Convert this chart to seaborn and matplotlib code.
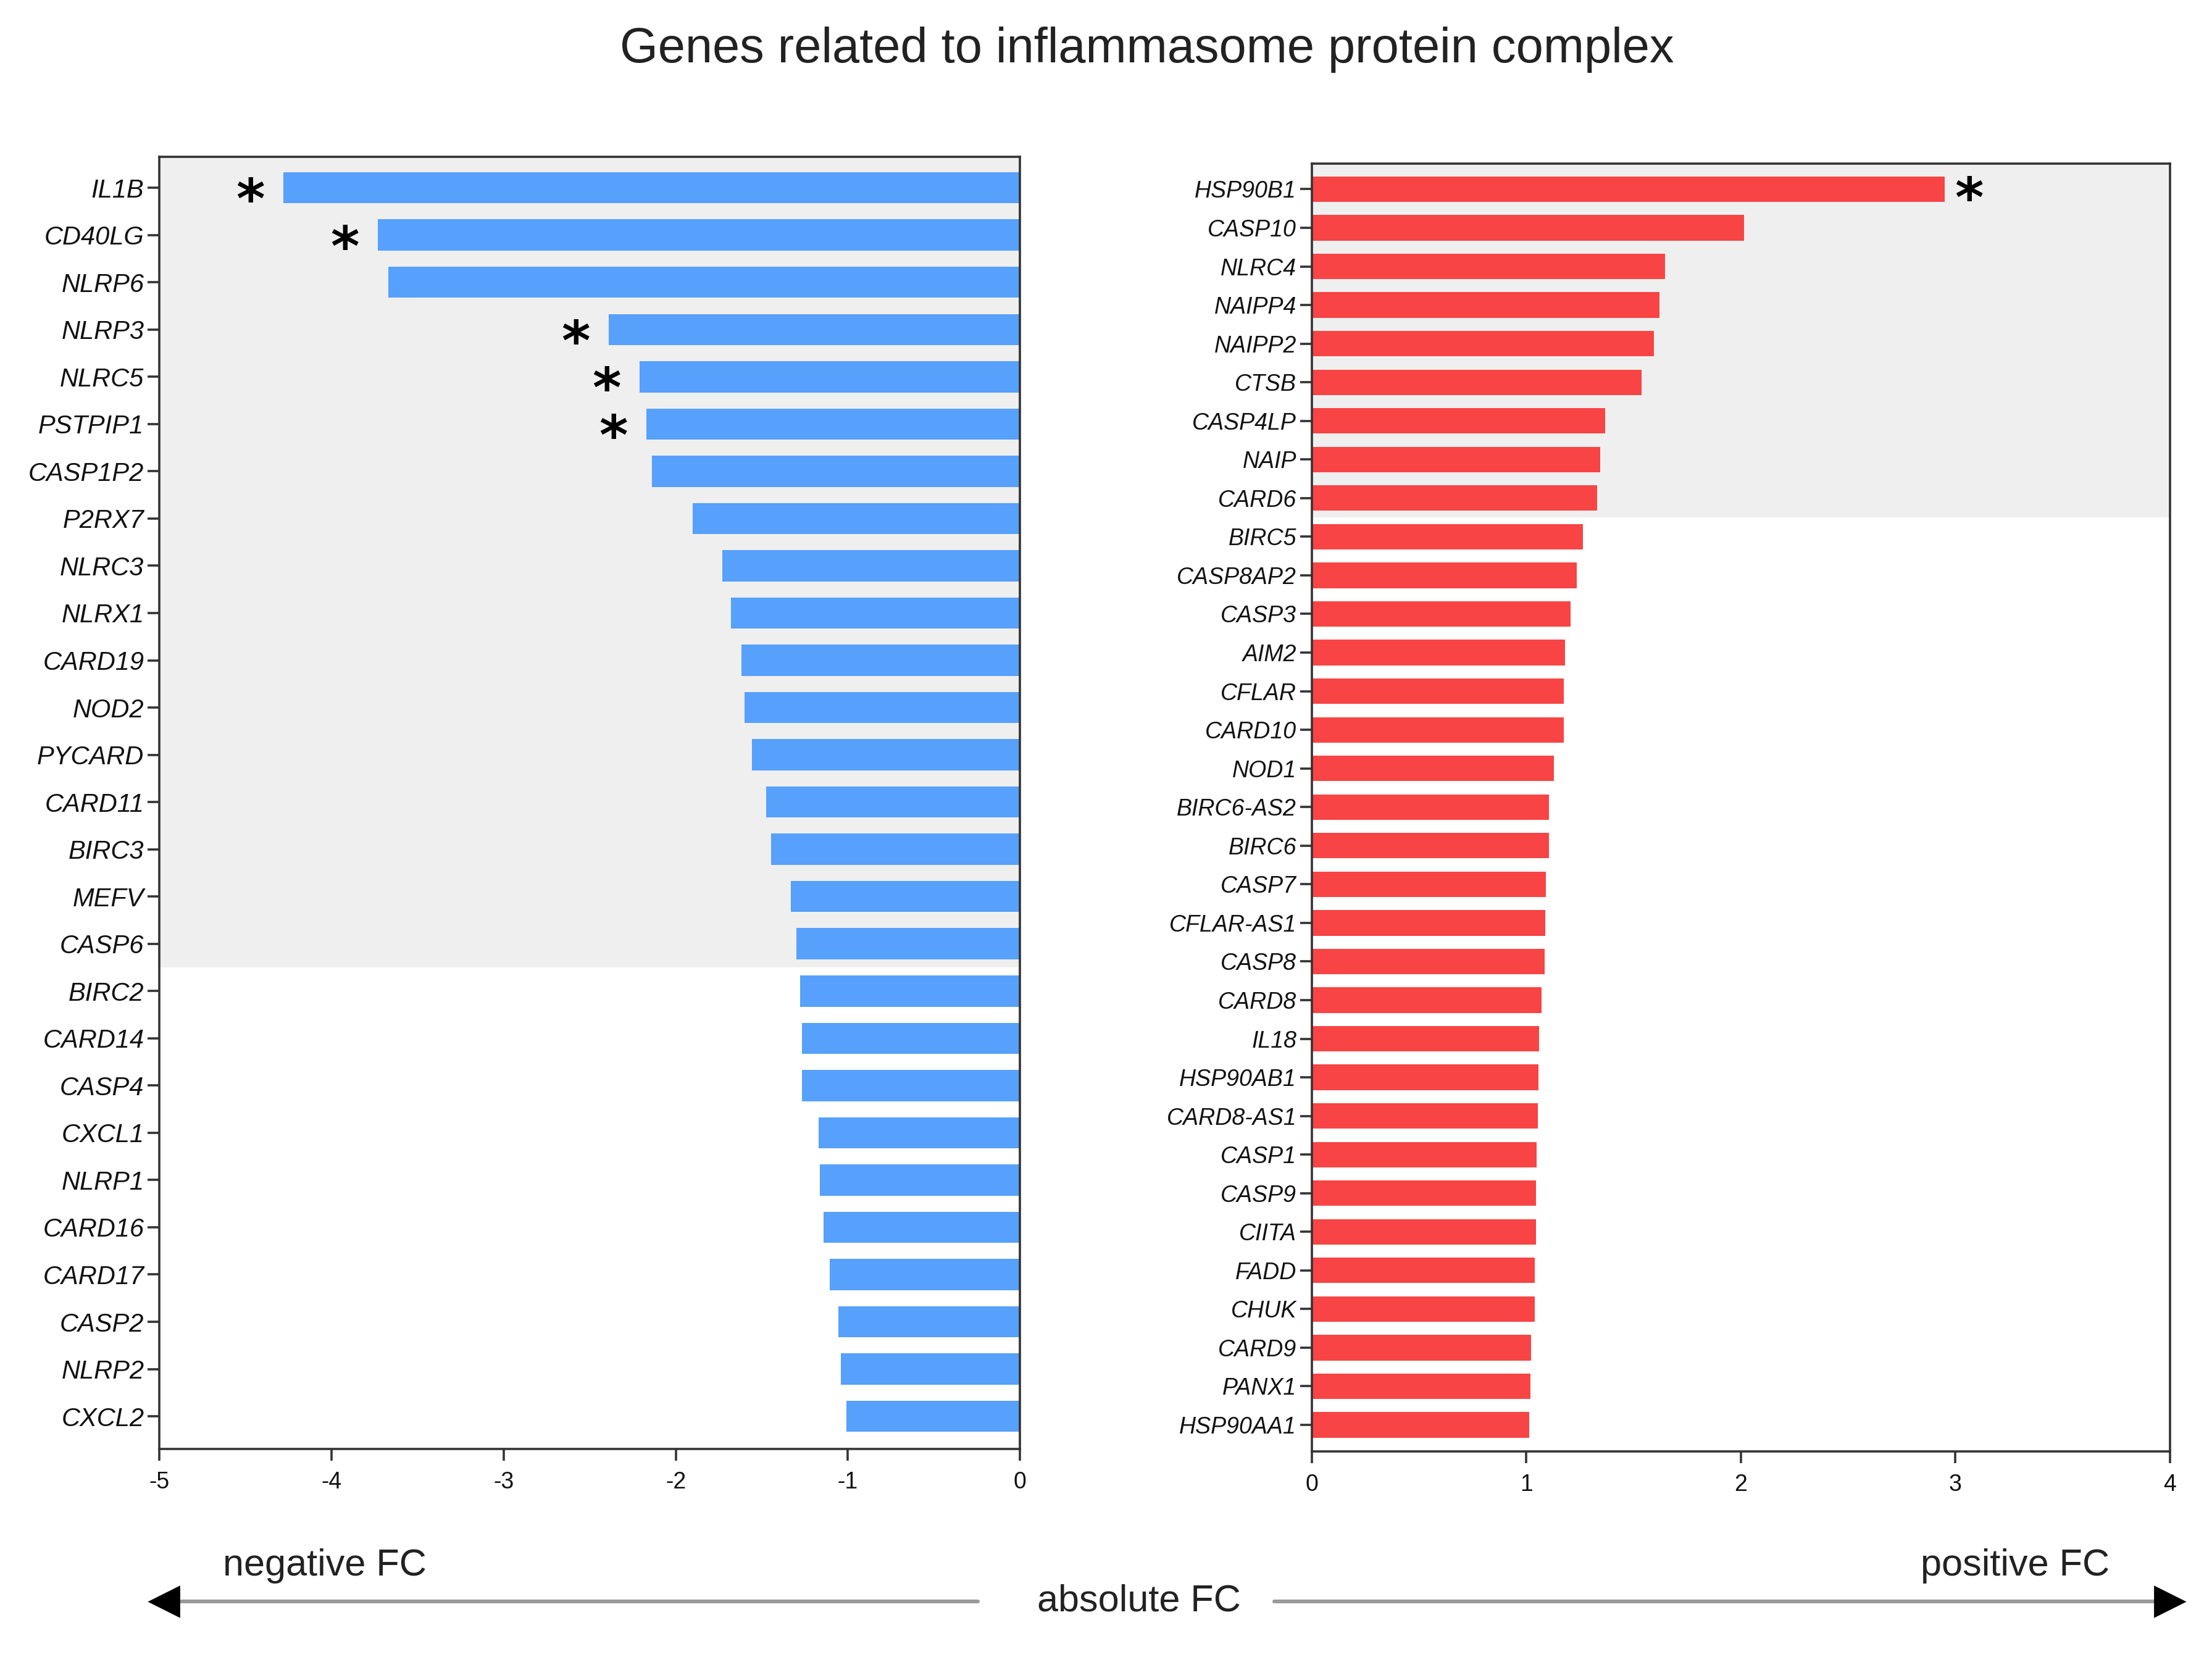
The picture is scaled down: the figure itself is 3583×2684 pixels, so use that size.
import pandas as pd
import matplotlib
matplotlib.use("Agg")
import matplotlib.pyplot as plt
from matplotlib.lines import Line2D
import seaborn as sns

# Data
neg_genes = ["IL1B", "CD40LG", "NLRP6", "NLRP3", "NLRC5", "PSTPIP1", "CASP1P2", "P2RX7",
             "NLRC3", "NLRX1", "CARD19", "NOD2", "PYCARD", "CARD11", "BIRC3", "MEFV",
             "CASP6", "BIRC2", "CARD14", "CASP4", "CXCL1", "NLRP1", "CARD16", "CARD17",
             "CASP2", "NLRP2", "CXCL2"]
neg_fc = [-4.28, -3.73, -3.67, -2.39, -2.21, -2.17, -2.14, -1.90,
          -1.73, -1.68, -1.62, -1.60, -1.556, -1.475, -1.447, -1.33,
          -1.30, -1.276, -1.265, -1.265, -1.171, -1.163, -1.14, -1.105,
          -1.055, -1.04, -1.01]
neg_sig = ["IL1B", "CD40LG", "NLRP3", "NLRC5", "PSTPIP1"]
neg_shaded = 17   # first 17 genes sit on the grey band

pos_genes = ["HSP90B1", "CASP10", "NLRC4", "NAIPP4", "NAIPP2", "CTSB", "CASP4LP", "NAIP",
             "CARD6", "BIRC5", "CASP8AP2", "CASP3", "AIM2", "CFLAR", "CARD10", "NOD1",
             "BIRC6-AS2", "BIRC6", "CASP7", "CFLAR-AS1", "CASP8", "CARD8", "IL18",
             "HSP90AB1", "CARD8-AS1", "CASP1", "CASP9", "CIITA", "FADD", "CHUK",
             "CARD9", "PANX1", "HSP90AA1"]
pos_fc = [2.95, 2.016, 1.646, 1.62, 1.595, 1.538, 1.366, 1.344,
          1.331, 1.264, 1.236, 1.207, 1.18, 1.175, 1.175, 1.127,
          1.105, 1.105, 1.092, 1.089, 1.086, 1.07, 1.06,
          1.057, 1.054, 1.048, 1.045, 1.045, 1.038, 1.038,
          1.022, 1.02, 1.013]
pos_sig = ["HSP90B1"]
pos_shaded = 9

df_neg = pd.DataFrame({"gene": neg_genes, "fc": neg_fc})
df_pos = pd.DataFrame({"gene": pos_genes, "fc": pos_fc})

sns.set_theme(style="white")
plt.rcParams["font.family"] = ["Liberation Sans Narrow", "Liberation Sans", "DejaVu Sans"]
plt.rcParams["axes.unicode_minus"] = False

BLUE = "#57a0fb"
RED = "#f84444"
SHADE = "#efefef"
SPINE = "#333333"

fig = plt.figure(figsize=(17.915, 13.42), dpi=200)
ax1 = fig.add_axes([0.0721, 0.1256, 0.3890, 0.7799])
ax2 = fig.add_axes([0.5931, 0.1240, 0.3878, 0.7772])


def style_axis(ax, df, color, xlim, xticks, shaded, sig, star_side, label_size, star_gap):
    sns.barplot(data=df, y="gene", x="fc", color=color, width=0.66,
                orient="h", ax=ax, saturation=1, zorder=2, linewidth=0)
    n = len(df)
    ax.set_ylim(n - 1 + 0.69, -0.66)
    ax.set_xlim(*xlim)
    ax.set_xticks(xticks)
    ax.set_xticklabels([str(t) for t in xticks])
    ax.axhspan(-0.66, shaded - 0.5, color=SHADE, zorder=0, lw=0)
    ax.set_xlabel("")
    ax.set_ylabel("")
    for s in ax.spines.values():
        s.set_color(SPINE)
        s.set_linewidth(1.3)
        s.set_visible(True)
    ax.tick_params(axis="y", length=7, width=1.3, color=SPINE, pad=2,
                   labelsize=label_size, labelcolor="#111111", left=True)
    ax.tick_params(axis="x", length=7, width=1.3, color=SPINE, pad=6,
                   labelsize=13.5, labelcolor="#111111", bottom=True)
    for lbl in ax.get_yticklabels():
        lbl.set_style("italic")
    span = xlim[1] - xlim[0]
    for i, (g, v) in enumerate(zip(df["gene"], df["fc"])):
        if g in sig:
            off = -star_gap * span if star_side == "left" else star_gap * span
            ax.text(v + off, i + 0.32, "*", ha="right" if star_side == "left" else "left",
                    va="center", fontsize=32, fontweight="bold",
                    family="DejaVu Sans", color="black", zorder=3)


style_axis(ax1, df_neg, BLUE, (-5, 0), [-5, -4, -3, -2, -1, 0], neg_shaded, neg_sig,
           "left", 15, 0.022)
style_axis(ax2, df_pos, RED, (0, 4), [0, 1, 2, 3, 4], pos_shaded, pos_sig,
           "right", 13.5, 0.012)

fig.text(0.5185, 0.970, "Genes related to inflammasome protein complex",
         ha="center", va="center", fontsize=28.6, family=["Liberation Sans", "DejaVu Sans"],
         color="#222222")

txt = dict(ha="center", va="center", fontsize=22, family=["Liberation Sans", "DejaVu Sans"],
           color="#222222")
fig.text(0.1467, 0.055, "negative FC", **txt)
fig.text(0.911, 0.055, "positive FC", **txt)
fig.text(0.515, 0.0336, "absolute FC", **txt)

# arrows: grey shaft, black triangular head
y_arrow = 0.0336
head_off = 0.0062
for x0, x1, mk in [(0.442, 0.068, "<"), (0.576, 0.987, ">")]:
    sign = 1 if x1 < x0 else -1
    fig.add_artist(Line2D([x0, x1 + sign * head_off], [y_arrow, y_arrow],
                          transform=fig.transFigure, color="#9a9a9a", lw=2.2))
    fig.add_artist(Line2D([x1 + sign * head_off], [y_arrow], transform=fig.transFigure,
                          marker=mk, markersize=17, color="black", lw=0))

fig.savefig("out.png", dpi=200)
